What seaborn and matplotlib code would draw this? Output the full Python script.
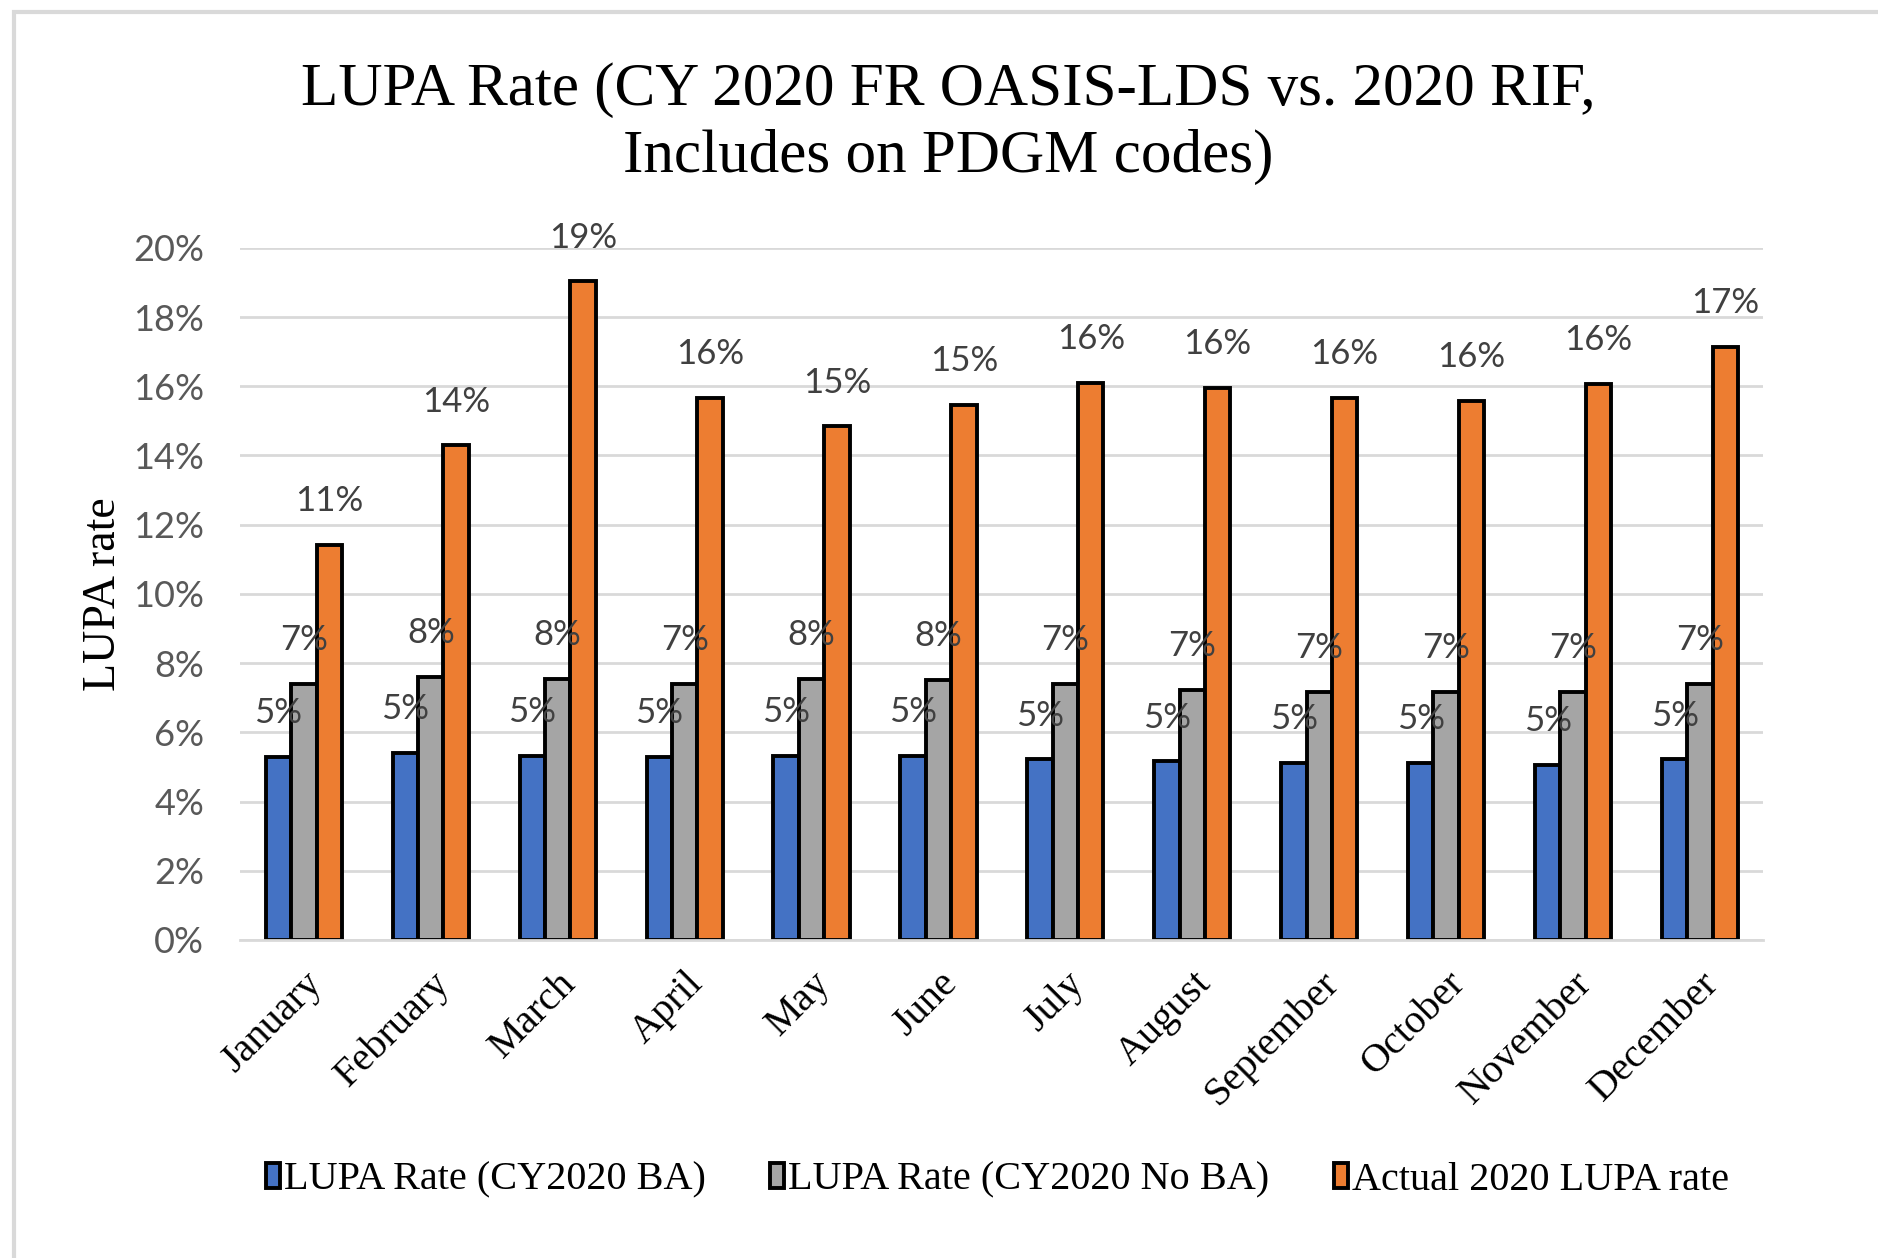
import matplotlib
matplotlib.use("Agg")
import matplotlib.pyplot as plt
import seaborn as sns
import pandas as pd
from matplotlib.patches import Rectangle
from matplotlib.ticker import PercentFormatter

# --- Datos ---
months = ["January", "February", "March", "April", "May", "June", "July",
          "August", "September", "October", "November", "December"]
series_names = ["LUPA Rate (CY2020 BA)", "LUPA Rate (CY2020 No BA)", "Actual 2020 LUPA rate"]
rate_ba = [0.0529, 0.0540, 0.0533, 0.0529, 0.0533, 0.0533, 0.0522, 0.0516, 0.0512, 0.0512, 0.0505, 0.0522]
rate_no_ba = [0.0740, 0.0761, 0.0754, 0.0740, 0.0754, 0.0752, 0.0740, 0.0723, 0.0716, 0.0716, 0.0716, 0.0740]
rate_actual = [0.1142, 0.1429, 0.1903, 0.1567, 0.1484, 0.1547, 0.1609, 0.1595, 0.1567, 0.1557, 0.1606, 0.1713]
colors = ["#4472C4", "#A5A5A5", "#ED7D31"]

df = pd.DataFrame({
    "month": months * 3,
    "series": [series_names[0]] * 12 + [series_names[1]] * 12 + [series_names[2]] * 12,
    "rate": rate_ba + rate_no_ba + rate_actual,
})

serif = "Liberation Serif"
sans = "Lato"

fig = plt.figure(figsize=(18.78, 12.58), dpi=100)
ax = fig.add_axes([0.128, 0.2528, 0.811, 0.5502])

# marco gris claro alrededor del gráfico
fig.patches.append(Rectangle((14 / 1878, -0.05), 1.2, 1 - 12 / 1258 + 0.05,
                             transform=fig.transFigure, fill=False,
                             edgecolor="#d9d9d9", linewidth=3))

sns.barplot(data=df, x="month", y="rate", hue="series", order=months,
            hue_order=series_names, palette=colors, width=0.6, saturation=1,
            edgecolor="black", linewidth=2.8, ax=ax, legend=True)

for cont in ax.containers:
    ax.bar_label(cont, labels=[f"{v:.0%}" for v in cont.datavalues],
                 padding=20, fontsize=25, color="#404040", family=sans)

ax.set_ylim(0, 0.2)
ax.set_xlim(-0.5, 11.5)
ax.set_yticks([i / 100 for i in range(0, 21, 2)])
ax.yaxis.set_major_formatter(PercentFormatter(1.0, decimals=0))
ax.grid(axis="y", color="#d9d9d9", linewidth=2)
ax.set_axisbelow(True)
for s in ["top", "right", "left"]:
    ax.spines[s].set_visible(False)
ax.spines["bottom"].set_color("#d9d9d9")
ax.spines["bottom"].set_linewidth(2)
ax.tick_params(axis="both", length=0)
ax.tick_params(axis="y", labelsize=26, labelcolor="#595959", pad=26)
for lab in ax.get_yticklabels():
    lab.set_family(sans)
ax.set_xticks(range(12))
ax.set_xticklabels(months, rotation=45, ha="right", rotation_mode="anchor",
                   fontsize=29, family=serif)
ax.tick_params(axis="x", pad=18)
ax.set_xlabel("")
ax.set_ylabel("LUPA rate", fontsize=33, family=serif, labelpad=6)

fig.text(0.505, 0.902, "LUPA Rate (CY 2020 FR OASIS-LDS vs. 2020 RIF,\nIncludes on PDGM codes)",
         ha="center", va="center", fontsize=44, family=serif, linespacing=1.25)

ax.get_legend().remove()
handles, labels = ax.get_legend_handles_labels()
fig.legend(handles[:3], labels[:3], loc="center", bbox_to_anchor=(0.531, 0.062),
           ncol=3, frameon=False, prop={"family": serif, "size": 29},
           handlelength=0.35, handleheight=0.6, handletextpad=0.1, columnspacing=1.6)

plt.savefig("out.png", dpi=100)
plt.close()
